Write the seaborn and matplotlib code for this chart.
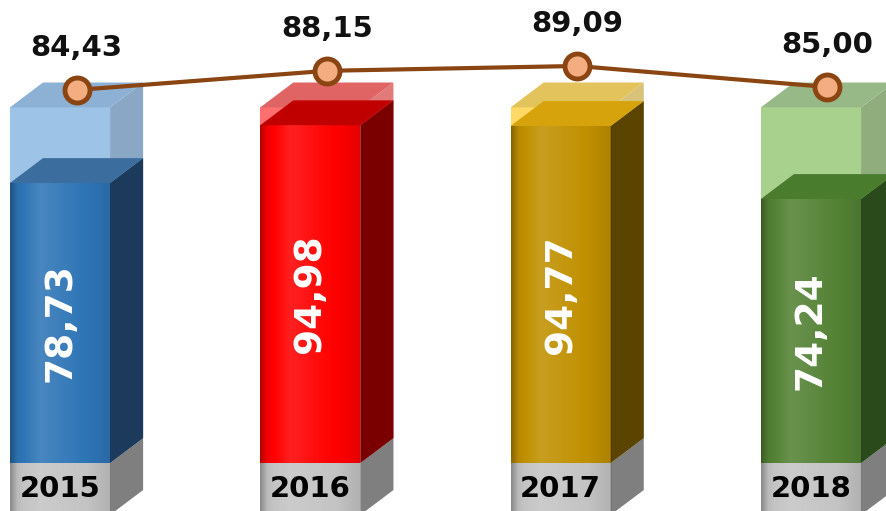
import numpy as np
import matplotlib
matplotlib.use("Agg")
import matplotlib.pyplot as plt
import seaborn as sns
from matplotlib.patches import Polygon

# Werte aus der Grafik
years = ["2015", "2016", "2017", "2018"]
bar_values = [78.73, 94.98, 94.77, 74.24]
line_values = [84.43, 88.15, 89.09, 85.00]
box_values = [100, 100, 100, 100]
base_values = [-14.6, -14.6, -14.6, -14.6]

# Farben je Jahr (Vorderseite, Seite, Deckel)
fill_front = ["#2e75b6", "#ff0000", "#c09000", "#548235"]
fill_side = ["#1b3a5c", "#7a0000", "#5a4400", "#2a4a1b"]
fill_top = ["#3b6d9e", "#c00000", "#d6a30c", "#4a7c2e"]
box_front = ["#9dc3e6", "#ff6f6f", "#ffd966", "#a9d18e"]
box_side = ["#8aa8c5", "#e27a7a", "#d9c27a", "#90ae7d"]
box_top = ["#8db1d4", "#e06464", "#e2c35c", "#97b987"]
base_front = ["#c4c4c4"] * 4
base_side = ["#7f7f7f"] * 4

bar_w = 0.4
dx, dy = 0.132, 7.0   # Tiefe der 3D-Boxen

sns.set_theme(style="white")
plt.rcParams["font.family"] = ["DejaVu Sans"]

fig = plt.figure(figsize=(8.86, 5.11), dpi=100)
ax = fig.add_axes([0, 0, 1, 1])


def shade_image():
    t = np.linspace(0, 1, 120)
    s = np.interp(t, [0, 0.07, 0.3, 0.75, 1.0], [-0.3, -0.05, 0.13, 0.0, -0.1])
    img = np.zeros((1, len(t), 4))
    img[0, :, :3] = np.where(s[:, None] > 0, 1.0, 0.0)
    img[0, :, 3] = np.abs(s)
    return img


def draw_boxes(values, fronts, sides, tops, z, shade=False):
    n0 = len(ax.patches)
    sns.barplot(x=years, y=values, hue=years, palette=fronts, width=bar_w,
                saturation=1, linewidth=0, legend=False, ax=ax, zorder=z)
    bars = sorted(ax.patches[n0:], key=lambda p: p.get_x())
    for i, p in enumerate(bars):
        x0, w = p.get_x(), p.get_width()
        y0, h = p.get_y(), p.get_height()
        ylo, yhi = min(y0, y0 + h), max(y0, y0 + h)
        x1 = x0 + w
        ax.add_patch(Polygon([(x1, ylo), (x1 + dx, ylo + dy), (x1 + dx, yhi + dy), (x1, yhi)],
                             closed=True, facecolor=sides[i], lw=0, zorder=z))
        if tops is not None:
            ax.add_patch(Polygon([(x0, yhi), (x0 + dx, yhi + dy), (x1 + dx, yhi + dy), (x1, yhi)],
                                 closed=True, facecolor=tops[i], lw=0, zorder=z))
        if shade:
            im = ax.imshow(shade_image(), extent=(x0, x1, ylo, yhi), aspect="auto",
                           zorder=z + 0.1, interpolation="bilinear")
            im.set_clip_path(p)
    return bars


draw_boxes(box_values, box_front, box_side, box_top, z=1)
draw_boxes(base_values, base_front, base_side, None, z=2, shade=True)
draw_boxes(bar_values, fill_front, fill_side, fill_top, z=3, shade=True)

# Werte in den Säulen
for i, v in enumerate(bar_values):
    ax.text(i, v / 2, f"{v:.2f}".replace(".", ","), rotation=90, ha="center", va="center",
            color="white", fontsize=27, fontweight="bold", zorder=6)
    ax.text(i, -7.2, years[i], ha="center", va="center", color="black",
            fontsize=21, fontweight="bold", zorder=6)

ax.set_xlim(-0.2397, 3.2997)
ax.set_ylim(-13.5, 130.2)
ax.axis("off")

# Linie auf zweiter Achse
ax2 = ax.twinx()
xm = np.arange(len(years)) + dx / 2
sns.lineplot(x=xm, y=line_values, ax=ax2, color="#8b4513", lw=3, marker="o",
             markersize=18, markerfacecolor="#f4ad80", markeredgecolor="#8b4513",
             markeredgewidth=3.5, zorder=5)
for x, v in zip(xm, line_values):
    ax2.annotate(f"{v:.2f}".replace(".", ","), (x, v), xytext=(0, 30), textcoords="offset points",
                 ha="center", va="center", fontsize=21, fontweight="bold", color="#111111")
ax2.set_xlim(-0.2397, 3.2997)
ax2.set_ylim(2.68, 101.9)
ax2.axis("off")

fig.savefig("out.png", dpi=100, facecolor="white")
